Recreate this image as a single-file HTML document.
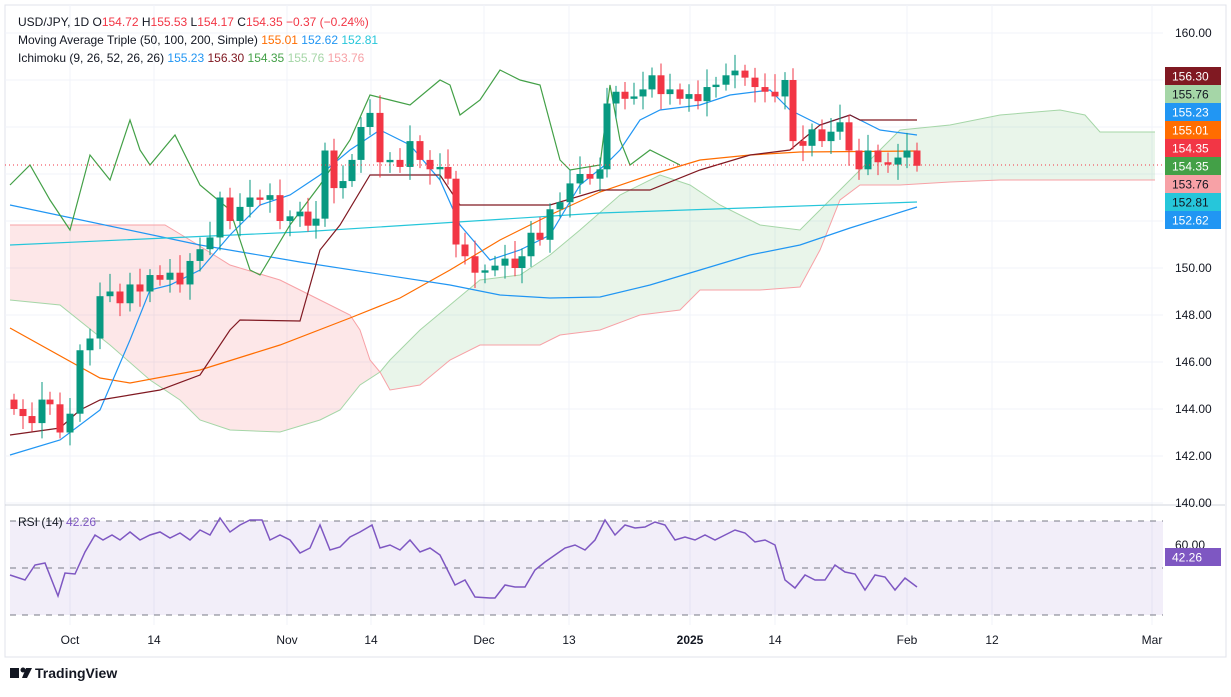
<!DOCTYPE html>
<html><head><meta charset="utf-8"><style>
body{margin:0;background:#fff;width:1231px;height:692px;overflow:hidden;font-family:"Liberation Sans",sans-serif}
svg text{font-family:"Liberation Sans",sans-serif}
</style></head><body>
<svg id="s" width="1231" height="692" xmlns="http://www.w3.org/2000/svg">
<rect x="0" y="0" width="1231" height="692" fill="#fff"/>
<rect x="5" y="5" width="1221" height="652" fill="none" stroke="#e0e3eb"/>
<g id="grid" stroke="#f0f3fa" stroke-width="1"></g>
<g id="cloud"></g>
<g id="lines" fill="none"></g>
<g id="candles"></g>
<line x1="5" y1="165" x2="1163" y2="165" stroke="#f23645" stroke-dasharray="1,3"/>
<line x1="5" y1="505" x2="1225" y2="505" stroke="#d1d4dc"/>
<rect x="10" y="521" width="1153" height="94" fill="#7e57c2" fill-opacity="0.1"/>
<g stroke="#787b86" stroke-dasharray="6,6"><line x1="10" y1="521" x2="1163" y2="521"/><line x1="10" y1="568" x2="1163" y2="568"/><line x1="10" y1="615" x2="1163" y2="615"/></g>
<polyline id="rsi" fill="none" stroke="#7e57c2" stroke-width="1.5"/>
<g id="axis" font-size="12" fill="#131722"></g>
<g font-size="12">
<text x="18" y="26" fill="#131722">USD/JPY, 1D  O<tspan fill="#f23645">154.72</tspan>  H<tspan fill="#f23645">155.53</tspan>  L<tspan fill="#f23645">154.17</tspan>  C<tspan fill="#f23645">154.35</tspan>  <tspan fill="#f23645">−0.37 (−0.24%)</tspan></text>
<text x="18" y="44" fill="#131722">Moving Average Triple (50, 100, 200, Simple)  <tspan fill="#ff6d00">155.01</tspan>  <tspan fill="#2196f3">152.62</tspan>  <tspan fill="#26c6da">152.81</tspan></text>
<text x="18" y="62" fill="#131722">Ichimoku (9, 26, 52, 26, 26)  <tspan fill="#2196f3">155.23</tspan>  <tspan fill="#801922">156.30</tspan>  <tspan fill="#43a047">154.35</tspan>  <tspan fill="#a5d6a7">155.76</tspan>  <tspan fill="#f7a1a6">153.76</tspan></text>
<text x="18" y="526" fill="#131722">RSI (14)  <tspan fill="#7e57c2">42.26</tspan></text>
</g>
<g transform="translate(10,667)"><rect x="0" y="1" width="9" height="10" fill="#131722"/><circle cx="13" cy="3" r="2.5" fill="#131722"/><path d="M16 1 L22 1 L17 11 L12 11Z" fill="#131722"/><text x="25" y="11" font-size="14" fill="#131722" font-weight="bold">TradingView</text></g>
</svg>
<script>
const S=document.getElementById('s'),NS='http://www.w3.org/2000/svg';
function el(p,t,a){const e=document.createElementNS(NS,t);for(const k in a)e.setAttribute(k,a[k]);document.getElementById(p).appendChild(e);return e}
const Y=p=>33+(160-p)*23.5;
[33,80,127,174,221,268,315,362,409,456,503].forEach(y=>el('grid','line',{x1:5,x2:1163,y1:y,y2:y}));
[70,154,287,371,484,569,690,775,907,992,1152].forEach(x=>el('grid','line',{x1:x,x2:x,y1:5,y2:625}));
[[160,33],[150,268],[148,315],[146,362],[144,409],[142,456],[140,503]].forEach(([v,y])=>{el('axis','text',{x:1175,y:y+4}).textContent=v.toFixed(2)});
el('axis','text',{x:1175,y:549}).textContent='60.00';
[['Oct',70],['14',154],['Nov',287],['14',371],['Dec',484],['13',569],['2025',690],['14',775],['Feb',907],['12',992],['Mar',1152]].forEach(([t,x])=>{const e=el('axis','text',{x:x,y:644,'text-anchor':'middle'});e.textContent=t;if(t=='2025')e.setAttribute('font-weight','bold')});
const pts=a=>a.map(p=>p.join(',')).join(' ');
const redTop=[[10,225],[165,225],[190,240],[230,265],[280,280],[320,300],[350,315],[360,330],[370,360],[380,372]];
const redBot=[[10,300],[60,305],[110,345],[150,380],[180,400],[200,420],[230,430],[280,432],[320,420],[340,410],[360,385],[380,372]];
el('cloud','polygon',{points:pts(redTop.concat(redBot.slice().reverse())),fill:'#f23645','fill-opacity':0.12});
const gTop=[[380,372],[390,360],[420,330],[450,305],[480,280],[520,275],[550,255],[580,230],[620,195],[660,175],[690,185],[720,205],[760,225],[800,230],[830,200],[860,170],[900,130],[950,125],[1000,115],[1060,110],[1085,115],[1100,132],[1155,132]];
const gBot=[[380,372],[390,390],[420,385],[450,360],[480,345],[540,345],[560,335],[600,330],[640,315],[680,310],[700,290],[760,290],[800,287],[820,250],[840,200],[860,185],[900,185],[950,182],[1000,180],[1155,180]];
el('cloud','polygon',{points:pts(gTop.concat(gBot.slice().reverse())),fill:'#4caf50','fill-opacity':0.12});
el('lines','polyline',{points:pts(redBot.concat(gTop.slice(1))),stroke:'#a5d6a7'});
el('lines','polyline',{points:pts(redTop.concat(gBot.slice(1))),stroke:'#f7a1a6'});
const L=(a,c)=>el('lines','polyline',{points:pts(a),stroke:c,'stroke-width':1.2});
L([[10,328],[100,378],[130,383],[200,370],[280,345],[350,318],[400,298],[450,270],[500,240],[550,215],[600,192],[650,175],[700,160],[750,155],[800,152],[917,151]],'#ff6d00');
L([[10,205],[200,245],[300,262],[450,285],[500,295],[550,298],[600,297],[650,285],[700,270],[750,255],[800,245],[850,228],[917,207]],'#2196f3');
L([[10,245],[300,232],[600,213],[917,202]],'#26c6da');
L([[10,455],[60,440],[100,410],[130,340],[150,290],[170,285],[200,270],[230,235],[260,205],[290,195],[320,175],[350,150],[380,130],[410,145],[440,180],[460,225],[490,260],[520,250],[550,235],[580,185],[605,165],[620,150],[640,120],[660,110],[700,105],[730,95],[770,90],[790,110],[820,125],[850,115],[880,130],[917,135]],'#2196f3');
L([[10,435],[60,428],[80,410],[100,400],[130,395],[160,390],[200,375],[230,330],[240,320],[300,321],[320,250],[340,225],[370,175],[440,175],[460,205],[550,205],[600,190],[650,190],[700,170],[750,155],[790,150],[820,125],[850,115],[860,120],[917,120]],'#801922');
L([[10,185],[30,165],[50,200],[70,230],[90,155],[110,180],[130,120],[140,150],[150,165],[175,135],[200,185],[230,210],[250,270],[260,275],[290,225],[320,185],[350,140],[370,95],[390,100],[410,105],[440,80],[450,85],[460,115],[480,100],[500,70],[520,80],[540,85],[560,160],[570,170],[600,165],[610,85],[620,140],[630,165],[650,150],[680,165]],'#43a047');
const C=[[14,144],[23,143.7],[32,143.4],[42,144.4],[50,144.2],[60,143],[70,143.8],[80,146.5],[90,147],[100,148.8],[110,149],[120,148.5],[130,149.3],[140,149],[150,149.7],[160,149.5],[170,149.8],[180,149.3],[190,150.3],[200,150.8],[210,151.3],[220,153],[230,152],[240,152.6],[250,153],[260,152.9],[270,153.1],[280,152],[290,152.2],[300,152.4],[308,151.8],[316,152.1],[325,155],[334,153.4],[343,153.7],[352,154.6],[361,156],[370,156.6],[380,154.5],[390,154.6],[400,154.3],[410,155.4],[420,154.6],[430,154.2],[440,154.3],[448,153.8],[456,151],[465,150.5],[475,149.8],[485,149.9],[495,150.1],[505,150.4],[515,150],[522,150.5],[531,151.5],[540,151.2],[550,152.5],[560,152.8],[570,153.6],[580,154],[590,153.8],[600,154.2],[607,157],[616,157.5],[625,157.2],[634,157.3],[643,157.6],[652,158.2],[661,157.4],[670,157.6],[680,157.2],[689,157.4],[698,157.1],[707,157.7],[716,157.8],[726,158.2],[735,158.4],[745,158.1],[755,157.7],[765,157.5],[775,157.3],[785,158],[793,155.4],[803,155.2],[812,155.9],[822,155.4],[831,155.8],[840,156.2],[849,155],[859,154.2],[868,155],[878,154.5],[888,154.4],[898,154.7],[907,155],[917,154.35]];
let prev=144.4;
C.forEach(([x,c],i)=>{const o=prev;prev=c;const up=c>=o,col=up?'#089981':'#f23645';
const w=0.25+((i*37)%7)/12,w2=0.25+((i*53)%5)/10;
const hi=Math.max(o,c)+w,lo=Math.min(o,c)-w2;
el('candles','line',{x1:x,x2:x,y1:Y(hi),y2:Y(lo),stroke:col});
const t=Y(Math.max(o,c)),b=Y(Math.min(o,c));
el('candles','rect',{x:x-3.5,y:t,width:7,height:Math.max(1,b-t),fill:col});});
document.getElementById('rsi').setAttribute('points',pts([[10,575],[25,580],[35,565],[45,563],[58,596],[65,573],[75,574],[85,552],[95,535],[103,540],[112,535],[120,540],[130,532],[140,540],[150,535],[160,532],[170,538],[180,533],[190,540],[200,530],[210,535],[220,518],[230,532],[240,525],[250,520],[262,520],[270,540],[280,535],[290,540],[300,553],[310,548],[320,525],[330,550],[340,547],[350,537],[360,532],[372,525],[380,548],[390,545],[400,550],[410,540],[420,552],[430,548],[440,555],[455,585],[465,580],[475,597],[490,598],[495,598],[505,585],[515,587],[525,587],[535,570],[545,562],[555,555],[565,548],[575,545],[585,550],[595,540],[605,520],[615,535],[625,525],[635,528],[645,527],[655,522],[665,525],[675,540],[685,537],[695,540],[705,535],[715,540],[725,535],[735,530],[745,533],[755,542],[765,540],[775,545],[785,580],[795,588],[805,575],[815,580],[825,580],[835,565],[845,572],[855,574],[865,590],[875,575],[885,577],[895,590],[905,578],[917,587]]));
[['156.30','#801922','#fff'],['155.76','#a5d6a7','#131722'],['155.23','#2196f3','#fff'],['155.01','#ff6d00','#fff'],['154.35','#f23645','#fff'],['154.35','#43a047','#fff'],['153.76','#f7a1a6','#131722'],['152.81','#26c6da','#131722'],['152.62','#2196f3','#fff']].forEach(([t,bg,fg],i)=>{const y=67+i*18;el('axis','rect',{x:1165,y:y,width:56,height:18,fill:bg});const e=el('axis','text',{x:1172,y:y+13.5,fill:fg});e.textContent=t;});
el('axis','rect',{x:1165,y:548,width:56,height:18,fill:'#7e57c2'});
const r=el('axis','text',{x:1172,y:561.5,fill:'#fff'});r.textContent='42.26';
</script>
</body></html>
